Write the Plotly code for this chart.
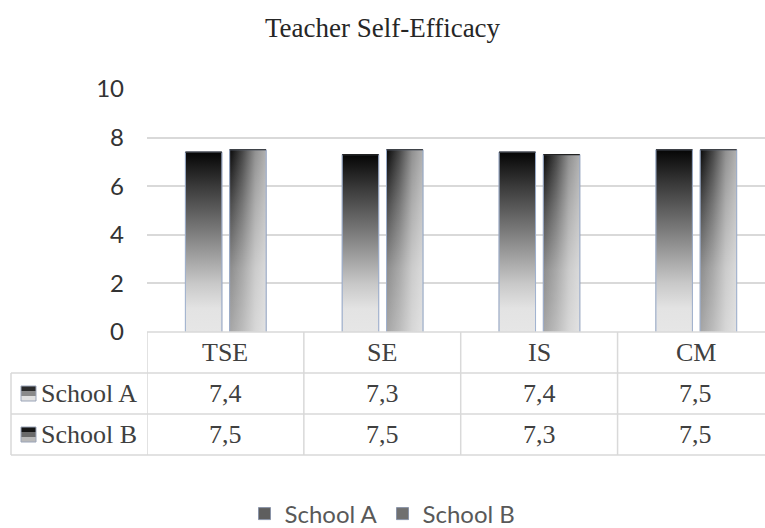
import plotly.graph_objects as go

# ---- data ----
categories = ["TSE", "SE", "IS", "CM"]
series_names = ["School A", "School B"]
school_a = [7.4, 7.3, 7.4, 7.5]
school_b = [7.5, 7.5, 7.3, 7.5]
value_labels_a = ["7,4", "7,3", "7,4", "7,5"]
value_labels_b = ["7,5", "7,5", "7,3", "7,5"]
y_ticks = [0, 2, 4, 6, 8, 10]

# ---- geometry / style ----
W_PX, H_PX = 765, 528
L, T, B = 147, 89, 196
PLOT_BOTTOM = H_PX - B  # 332
PLOT_H = PLOT_BOTTOM - T
XR = [-0.5, 3.44]
BAR_W = 0.232
OFFSETS = [-0.255, 0.027]
GRID = "#d9d9d9"
TXT = "#404040"
SERIF = "Liberation Serif, Times New Roman, serif"
SANS = "Lato, Open Sans, sans-serif"


def py(p):
    """pixel row -> paper y"""
    return (PLOT_BOTTOM - p) / PLOT_H


def px(p):
    return (p - L) / (W_PX - L)


fig = go.Figure()

series_vals = [school_a, school_b]
legend_colors = ["#5e5e5e", "#707070"]
for s, (name, vals) in enumerate(zip(series_names, series_vals)):
    fig.add_trace(go.Bar(
        x=list(range(len(categories))), y=vals, name=name,
        width=BAR_W, offset=OFFSETS[s],
        marker=dict(color=legend_colors[s], line=dict(color="#8a94a8", width=1)),
        hoverinfo="skip",
    ))

# gradient fills over the bars
scale_a = [[0, "#e6e6e6"], [0.13, "#e3e3e3"], [0.27, "#c8c8c8"], [0.54, "#808080"],
           [0.81, "#3a3a3a"], [1, "#050505"]]
scale_b = [[0, "#a6a6a6"], [0.35, "#8c8c8c"], [0.7, "#4a4a4a"], [1, "#080808"]]
overlay_b = [[0, "rgba(255,255,255,0)"], [0.35, "rgba(255,255,255,0.25)"],
             [0.7, "rgba(255,255,255,0.55)"], [1, "rgba(255,255,255,0.68)"]]

for s, vals in enumerate(series_vals):
    for i, v in enumerate(vals):
        x0 = i + OFFSETS[s]
        x1 = x0 + BAR_W
        xs = [x0, x0, x1, x1, x0]
        ys = [0, v, v, 0, 0]
        fig.add_trace(go.Scatter(
            x=xs, y=ys, mode="lines", fill="toself",
            fillgradient=dict(type="vertical", colorscale=scale_a if s == 0 else scale_b,
                              start=0, stop=v),
            line=dict(color="rgba(0,0,0,0)", width=0),
            showlegend=False, hoverinfo="skip",
        ))
        if s == 1:
            fig.add_trace(go.Scatter(
                x=xs, y=ys, mode="lines", fill="toself",
                fillgradient=dict(type="horizontal", colorscale=overlay_b,
                                  start=x0, stop=x1),
                line=dict(color="rgba(0,0,0,0)", width=0),
                showlegend=False, hoverinfo="skip",
            ))
        # outline: dark top, bluish sides
        fig.add_trace(go.Scatter(
            x=[x0, x0, x1, x1], y=[0, v, v, 0], mode="lines",
            line=dict(color="rgba(160,178,210,0.9)", width=1),
            showlegend=False, hoverinfo="skip",
        ))
        fig.add_trace(go.Scatter(
            x=[x0, x1], y=[v, v], mode="lines",
            line=dict(color="#222222", width=1.2),
            showlegend=False, hoverinfo="skip",
        ))

# ---- data table below the plot ----
shapes = []
line = dict(color=GRID, width=1.5)
rows = [PLOT_BOTTOM, 373, 414, 455]
# horizontal lines
shapes.append(dict(type="line", xref="x", yref="paper", x0=-0.5, x1=XR[1],
                   y0=py(rows[0]), y1=py(rows[0]), line=line))
for r in rows[1:]:
    shapes.append(dict(type="line", xref="paper", yref="paper", x0=px(11), x1=1,
                       y0=py(r), y1=py(r), line=line))
# vertical lines
shapes.append(dict(type="line", xref="paper", yref="paper", x0=px(11), x1=px(11),
                   y0=py(rows[1]), y1=py(rows[3]), line=line))
for k in range(len(categories)):
    shapes.append(dict(type="line", xref="x", yref="paper", x0=k - 0.5, x1=k - 0.5,
                       y0=py(rows[0]), y1=py(rows[3]), line=line))

cell_font = dict(family=SERIF, size=26, color=TXT)
annotations = []
for k, c in enumerate(categories):
    for r_idx, txt in enumerate([c, value_labels_a[k], value_labels_b[k]]):
        annotations.append(dict(x=k, y=py((rows[r_idx] + rows[r_idx + 1]) / 2),
                                xref="x", yref="paper", xanchor="center", yanchor="middle",
                                text=txt, showarrow=False, font=cell_font))

sw_colors = [["#e0e0e0", "#8a8a8a", "#2a2a2a"], ["#b8b8b8", "#6a6a6a", "#151515"]]
for s, name in enumerate(series_names):
    yc = (rows[1 + s] + rows[2 + s]) / 2
    # swatch (3 bands for a simple gradient look, dark at top)
    for b, col in enumerate(sw_colors[s]):
        y_bot = yc + 7.5 - 5 * b
        shapes.append(dict(type="rect", xref="paper", yref="paper",
                           x0=px(21), x1=px(36), y0=py(y_bot), y1=py(y_bot - 5),
                           fillcolor=col, line=dict(width=0)))
    shapes.append(dict(type="rect", xref="paper", yref="paper",
                       x0=px(21), x1=px(36), y0=py(yc + 7.5), y1=py(yc - 7.5),
                       fillcolor="rgba(0,0,0,0)", line=dict(color="#9aa4b8", width=1)))
    annotations.append(dict(x=px(39), y=py(yc), xref="paper", yref="paper",
                            xanchor="left", yanchor="middle", text=name, showarrow=False,
                            font=cell_font))

fig.update_layout(
    width=W_PX, height=H_PX,
    margin=dict(l=L, r=0, t=T, b=B),
    paper_bgcolor="white", plot_bgcolor="white",
    title=dict(text="Teacher Self-Efficacy", x=0.5, xref="container", xanchor="center",
               y=1 - 28 / H_PX, yref="container", yanchor="middle",
               font=dict(family=SERIF, size=27, color="#262626")),
    barmode="overlay",
    xaxis=dict(range=XR, showticklabels=False, showgrid=False, zeroline=False,
               showline=False, ticks="", fixedrange=True),
    yaxis=dict(range=[0, 10], tickvals=y_ticks, showgrid=True, gridcolor=GRID, gridwidth=1.5,
               zeroline=False, showline=False, ticklabelstandoff=22,
               tickfont=dict(family=SANS, size=24, color="#333333")),
    legend=dict(orientation="h", xref="container", x=0.5, xanchor="center",
                yref="container", y=1 - 514 / H_PX, yanchor="middle",
                font=dict(family=SANS, size=24, color="#595959"), itemwidth=30,
                traceorder="normal"),
    shapes=shapes, annotations=annotations,
    showlegend=True,
)

fig.write_html("out.html", post_script="document.body.style.margin='0';",
               config={"displayModeBar": False})
